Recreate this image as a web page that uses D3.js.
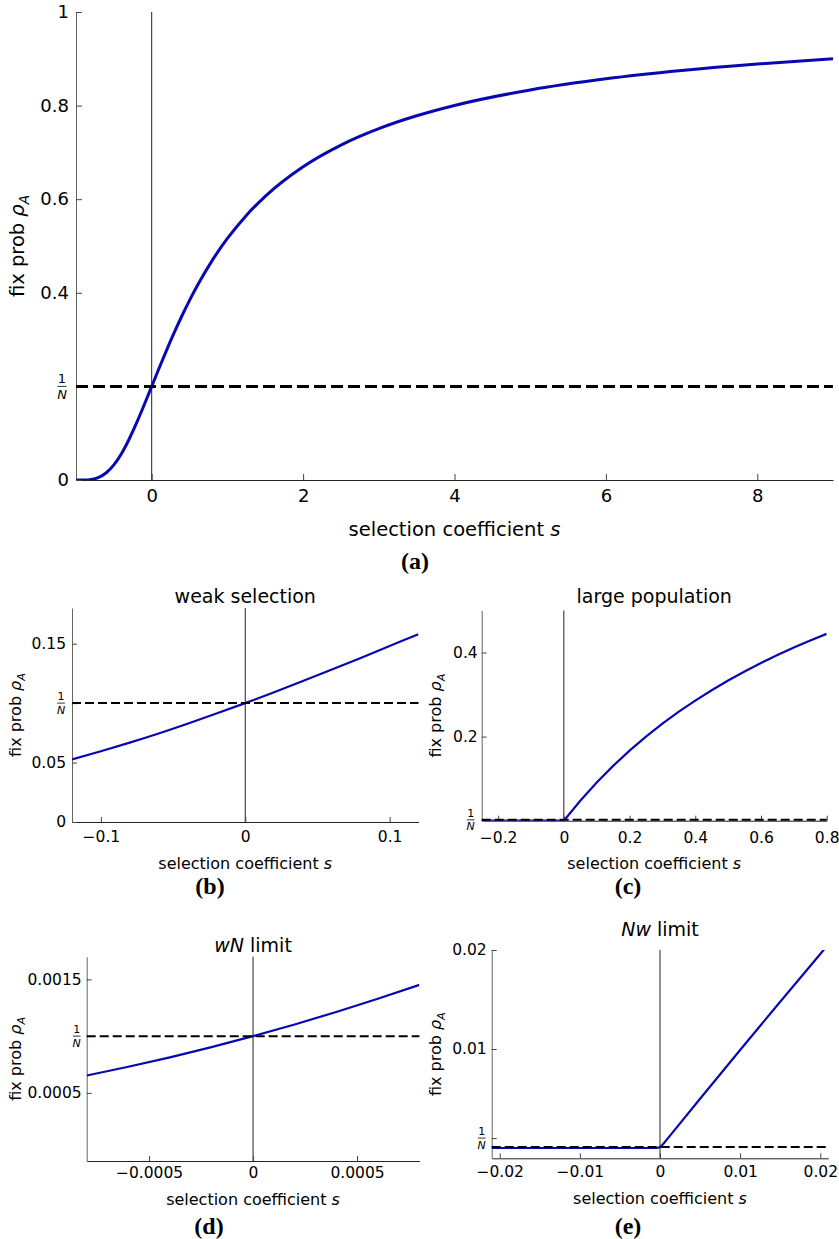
<!DOCTYPE html>
<html>
<head>
<meta charset="utf-8">
<script src="https://cdn.jsdelivr.net/npm/d3@7"></script>
<style>
body { margin: 0; background: #fff; }
text { font-family: "DejaVu Sans", sans-serif; fill: #000; }
.caption { font-family: "Liberation Serif", serif; font-weight: bold; }
</style>
</head>
<body>
<svg id="chart" width="839" height="1239"></svg>
<script>
// (a) full range, N = 5
const sA   = [-1, -0.9, -0.8, -0.7, -0.6, -0.5, -0.4, -0.3, -0.2, -0.1, 0, 0.1, 0.2, 0.3, 0.4, 0.5, 0.6, 0.8, 1, 1.25, 1.5, 2, 2.5, 3, 3.5, 4, 5, 6, 7, 8, 9];
const rhoA = [0, 0.0001, 0.0013, 0.0057, 0.0155, 0.0323, 0.0562, 0.0866, 0.1219, 0.1602, 0.2, 0.2398, 0.2787, 0.3158, 0.351, 0.3839, 0.4145, 0.4693, 0.5161, 0.5654, 0.6062, 0.6694, 0.7157, 0.7507, 0.7782, 0.8003, 0.8334, 0.8572, 0.875, 0.8889, 0.9];
const invNA = 0.2;
const xTicksA = [0, 2, 4, 6, 8];
const yTicksA = [0, 0.2, 0.4, 0.6, 0.8, 1];
const yLabelsA = ["0", "1/N", "0.4", "0.6", "0.8", "1"];

// (b) weak selection, N = 10
const sB   = [-0.12, -0.1, -0.08, -0.06, -0.04, -0.02, 0, 0.02, 0.04, 0.06, 0.08, 0.1, 0.12];
const rhoB = [0.0526, 0.0595, 0.0668, 0.0745, 0.0827, 0.0912, 0.1, 0.1091, 0.1186, 0.1282, 0.138, 0.148, 0.158];
const invNB = 0.1;
const xTicksB = [-0.1, 0, 0.1];
const xLabelsB = ["−0.1", "0", "0.1"];
const yTicksB = [0, 0.05, 0.1, 0.15];
const yLabelsB = ["0", "0.05", "1/N", "0.15"];

// (c) large population
const sC   = [-0.25, 0, 0.05, 0.1, 0.15, 0.2, 0.25, 0.3, 0.35, 0.4, 0.45, 0.5, 0.55, 0.6, 0.65, 0.7, 0.75, 0.8];
const rhoC = [0, 0, 0.0476, 0.0909, 0.1304, 0.1667, 0.2, 0.2308, 0.2593, 0.2857, 0.3103, 0.3333, 0.3548, 0.375, 0.3939, 0.4118, 0.4286, 0.4444];
const invNC = 0.002;
const xTicksC = [-0.2, 0, 0.2, 0.4, 0.6, 0.8];
const xLabelsC = ["−0.2", "0", "0.2", "0.4", "0.6", "0.8"];
const yTicksC = [0.002, 0.2, 0.4];
const yLabelsC = ["1/N", "0.2", "0.4"];

// (d) wN limit, N = 1000
const sD   = [-0.0008, -0.0006, -0.0004, -0.0002, 0, 0.0002, 0.0004, 0.0006, 0.0008];
const rhoD = [0.000653, 0.00073, 0.000813, 0.000903, 0.001, 0.001103, 0.001213, 0.001329, 0.001452];
const invND = 0.001;
const xTicksD = [-0.0005, 0, 0.0005];
const xLabelsD = ["−0.0005", "0", "0.0005"];
const yTicksD = [0.0005, 0.001, 0.0015];
const yLabelsD = ["0.0005", "1/N", "0.0015"];

// (e) Nw limit
const sE   = [-0.021, -0.0005, -0.0002, 0, 0.0002, 0.0005, 0.001, 0.005, 0.01, 0.015, 0.02, 0.021];
const rhoE = [0, 0, 0.00003, 0.0001, 0.00023, 0.0005, 0.000999, 0.004975, 0.0099, 0.01478, 0.0196, 0.02057];
const invNE = 0.0001;
const xTicksE = [-0.02, -0.01, 0, 0.01, 0.02];
const xLabelsE = ["−0.02", "−0.01", "0", "0.01", "0.02"];
const yTicksE = [0.001, 0.01, 0.02];
const yLabelsE = ["1/N", "0.01", "0.02"];

const svg = d3.select("#chart");
const blue = "#0808b2";

const panels = [
  { id: "a", s: sA, rho: rhoA, invN: invNA, xTicks: xTicksA, xLabels: xTicksA.map(String), yTicks: yTicksA, yLabels: yLabelsA,
    xDomain: [-1, 9], yDomain: [0, 1], left: 76, right: 833, top: 12, bottom: 480,
    smooth: true, tickLen: 6, tickFont: 18, xPad: 9, yPad: 7, labelFont: 19.5, lineW: 3, dash: "12,5", dashW: 3,
    fracFont: 13, fracOff: 14, xLabelY: 536, yLabelX: 17, caption: "(a)", capX: 415, capY: 569 },
  { id: "b", s: sB, rho: rhoB, invN: invNB, xTicks: xTicksB, xLabels: xLabelsB, yTicks: yTicksB, yLabels: yLabelsB,
    xDomain: [-0.12, 0.12], yDomain: [0, 0.18], left: 72, right: 418.5, top: 608, bottom: 822,
    smooth: true, tickLen: 5, tickFont: 15.5, xPad: 9, yPad: 6, labelFont: 16, lineW: 2.2, dash: "9,4", dashW: 2,
    fracFont: 11, fracOff: 11, xLabelY: 869, yLabelX: 15, title: [["weak selection", false]], titleY: 603,
    caption: "(b)", capX: 210, capY: 894 },
  { id: "c", s: sC, rho: rhoC, invN: invNC, xTicks: xTicksC, xLabels: xLabelsC, yTicks: yTicksC, yLabels: yLabelsC,
    xDomain: [-0.25, 0.8], yDomain: [0, 0.5], left: 481.7, right: 826.7, top: 610.5, bottom: 820.7,
    smooth: false, tickLen: 5, tickFont: 15.5, xPad: 11, yPad: 4, labelFont: 16, lineW: 2.2, dash: "9,4", dashW: 2,
    fracFont: 11, fracOff: 11, xLabelY: 869, yLabelX: 435, title: [["large population", false]], titleY: 603,
    caption: "(c)", capX: 628, capY: 894 },
  { id: "d", s: sD, rho: rhoD, invN: invND, xTicks: xTicksD, xLabels: xLabelsD, yTicks: yTicksD, yLabels: yLabelsD,
    xDomain: [-0.0008, 0.0008], yDomain: [-0.0001, 0.0017], left: 86.7, right: 419.4, top: 956.7, bottom: 1161,
    smooth: true, tickLen: 5, tickFont: 15.5, xPad: 6, yPad: 5, labelFont: 16, lineW: 2.2, dash: "9,4", dashW: 2,
    fracFont: 11, fracOff: 10, xLabelY: 1205, yLabelX: 15, title: [["wN", true], [" limit", false]], titleY: 952,
    caption: "(d)", capX: 209, capY: 1234 },
  { id: "e", s: sE, rho: rhoE, invN: invNE, xTicks: xTicksE, xLabels: xLabelsE, yTicks: yTicksE, yLabels: yLabelsE,
    xDomain: [-0.021, 0.021], yDomain: [-0.00104, 0.02], left: 491.7, right: 828.3, top: 950, bottom: 1158.3,
    smooth: false, tickLen: 5, tickFont: 15.5, xPad: 7.7, yPad: 5, labelFont: 16, lineW: 2.2, dash: "9,4", dashW: 2,
    fracFont: 11, fracOff: 10, xLabelY: 1204, yLabelX: 435, title: [["Nw", true], [" limit", false]], titleY: 936,
    caption: "(e)", capX: 628, capY: 1234 }
];

function drawPanel(p) {
  const x = d3.scaleLinear().domain(p.xDomain).range([p.left, p.right]);
  const y = d3.scaleLinear().domain(p.yDomain).range([p.bottom, p.top]);
  const g = svg.append("g");

  svg.append("clipPath").attr("id", "clip-" + p.id)
    .append("rect")
    .attr("x", p.left).attr("y", p.top)
    .attr("width", p.right - p.left).attr("height", p.bottom - p.top);

  // vertical line at s = 0
  g.append("line")
    .attr("x1", x(0)).attr("x2", x(0))
    .attr("y1", y.range()[1]).attr("y2", y.range()[0])
    .attr("stroke", "#222").attr("stroke-width", 1);

  // axes, ticks pointing inward
  const xAxis = d3.axisBottom(x).tickValues(p.xTicks).tickSizeInner(-p.tickLen).tickSizeOuter(0)
    .tickPadding(p.xPad).tickFormat((d, i) => p.xLabels[i]);
  const yAxis = d3.axisLeft(y).tickValues(p.yTicks).tickSizeInner(-p.tickLen).tickSizeOuter(0)
    .tickPadding(p.yPad).tickFormat((d, i) => p.yLabels[i] === "1/N" ? "" : p.yLabels[i]);

  const gx = g.append("g").attr("transform", `translate(0,${p.bottom})`).call(xAxis);
  const gy = g.append("g").attr("transform", `translate(${p.left},0)`).call(yAxis);
  [gx, gy].forEach(a => {
    a.selectAll("text").attr("font-size", p.tickFont).attr("font-family", "DejaVu Sans").attr("fill", "#000");
    a.selectAll(".tick line").attr("stroke", "#444");
  });
  gx.select(".domain").attr("stroke", "#222");
  gy.select(".domain").attr("stroke", "#666");

  // 1/N fraction label
  p.yTicks.forEach((v, i) => {
    if (p.yLabels[i] !== "1/N") return;
    const f = g.append("g").attr("transform", `translate(${p.left - p.fracOff},${y(v)})`);
    f.append("text").attr("text-anchor", "middle").attr("font-size", p.fracFont)
      .attr("y", -p.fracFont * 0.25).text("1");
    f.append("line").attr("x1", -p.fracFont * 0.35).attr("x2", p.fracFont * 0.35)
      .attr("y1", 0).attr("y2", 0).attr("stroke", "#000").attr("stroke-width", 0.8);
    f.append("text").attr("text-anchor", "middle").attr("font-size", p.fracFont)
      .attr("font-style", "italic").attr("y", p.fracFont * 0.95).text("N");
  });

  // curve
  const line = d3.line()
    .x((d, i) => x(p.s[i]))
    .y(d => y(d))
    .curve(p.smooth ? d3.curveMonotoneX : d3.curveLinear);
  g.append("path")
    .datum(p.rho)
    .attr("clip-path", `url(#clip-${p.id})`)
    .attr("d", line)
    .attr("fill", "none")
    .attr("stroke", blue)
    .attr("stroke-width", p.lineW);

  // 1/N reference line
  g.append("line")
    .attr("x1", p.left).attr("x2", p.right)
    .attr("y1", y(p.invN)).attr("y2", y(p.invN))
    .attr("stroke", "#000").attr("stroke-width", p.dashW)
    .attr("stroke-dasharray", p.dash);

  const cx = (p.left + p.right) / 2;
  const cy = (p.top + p.bottom) / 2;

  // axis labels
  const xl = g.append("text").attr("x", cx).attr("y", p.xLabelY)
    .attr("text-anchor", "middle").attr("font-size", p.labelFont);
  xl.append("tspan").text("selection coefficient ");
  xl.append("tspan").attr("font-style", "italic").text("s");

  const yl = g.append("text")
    .attr("transform", `translate(${p.yLabelX},${cy}) rotate(-90)`)
    .attr("text-anchor", "middle").attr("dy", "0.35em").attr("font-size", p.labelFont);
  yl.append("tspan").text("fix prob ");
  yl.append("tspan").attr("font-style", "italic").text("ρ");
  yl.append("tspan").attr("font-style", "italic").attr("font-size", p.labelFont * 0.7)
    .attr("dy", "0.35em").text("A");

  if (p.title) {
    const t = g.append("text").attr("x", cx).attr("y", p.titleY)
      .attr("text-anchor", "middle").attr("font-size", 19);
    p.title.forEach(([str, it]) => {
      t.append("tspan").attr("font-style", it ? "italic" : "normal").text(str);
    });
  }

  g.append("text").attr("class", "caption")
    .attr("x", p.capX).attr("y", p.capY)
    .attr("text-anchor", "middle").attr("font-size", 24)
    .text(p.caption);
}

panels.forEach(drawPanel);
</script>
</body>
</html>
